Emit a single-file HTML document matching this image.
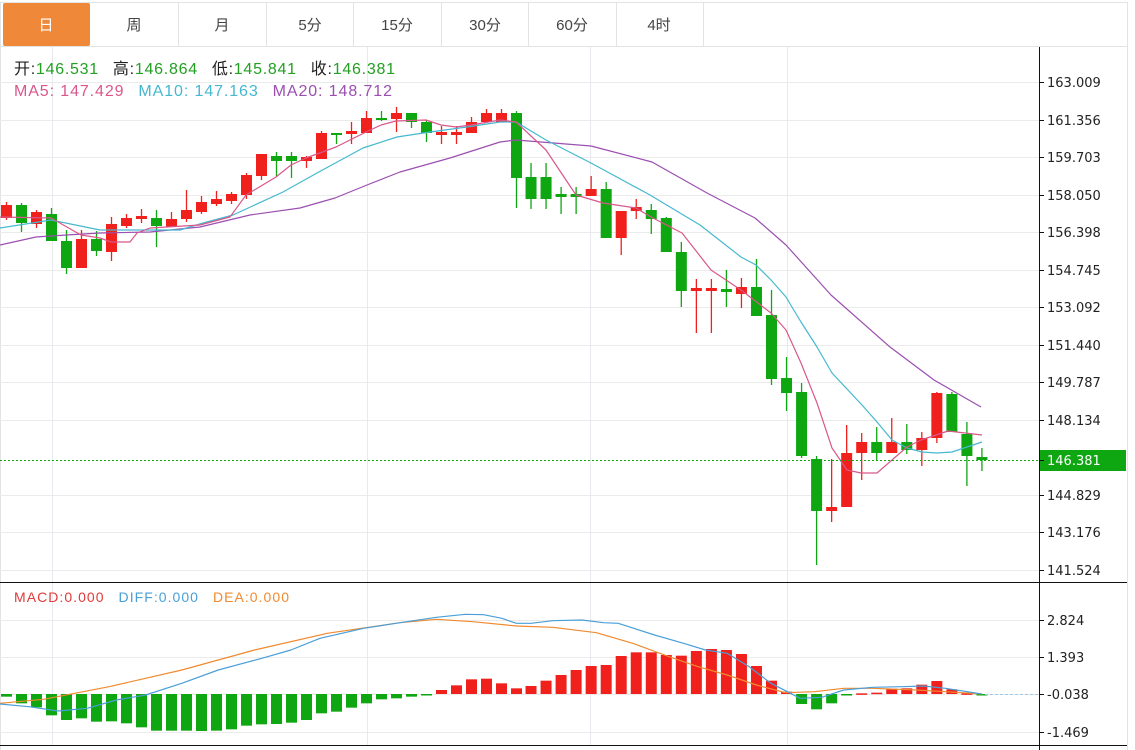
<!DOCTYPE html>
<html><head><meta charset="utf-8">
<style>
html,body{margin:0;padding:0;background:#fff;width:1135px;height:750px;overflow:hidden;font-family:"Liberation Sans","Noto Sans CJK SC",sans-serif}
svg{position:absolute;left:0;top:0}
</style></head><body>
<svg id="s" width="1135" height="750" xmlns="http://www.w3.org/2000/svg">
<rect x="0" y="0" width="1135" height="750" fill="#fff"/>
<line x1="0" y1="2.5" x2="1127" y2="2.5" stroke="#e3e3e3"/>
<line x1="0" y1="46.5" x2="1127" y2="46.5" stroke="#e3e3e3"/>
<line x1="1127.5" y1="2" x2="1127.5" y2="750" stroke="#e3e3e3"/>
<line x1="0.5" y1="2" x2="0.5" y2="750" stroke="#e3e3e3"/>
<rect x="3" y="3" width="87" height="43" fill="#f0883a" rx="2"/>
<g stroke="#e3e3e3"><line x1="178.5" y1="3" x2="178.5" y2="46"/><line x1="266.5" y1="3" x2="266.5" y2="46"/><line x1="353.5" y1="3" x2="353.5" y2="46"/><line x1="441.5" y1="3" x2="441.5" y2="46"/><line x1="528.5" y1="3" x2="528.5" y2="46"/><line x1="616.5" y1="3" x2="616.5" y2="46"/><line x1="703.5" y1="3" x2="703.5" y2="46"/></g>
<g font-size="15" fill="#444" text-anchor="middle" font-family="Liberation Sans,Noto Sans CJK SC,sans-serif">
<text x="46" y="30" fill="#fff">日</text><text x="134" y="30">周</text><text x="222" y="30">月</text><text x="310" y="30">5分</text><text x="397" y="30">15分</text><text x="485" y="30">30分</text><text x="572" y="30">60分</text><text x="659" y="30">4时</text>
</g>
<g id="grid"></g>
<g id="plot"></g>
<text x="14" y="74" font-size="16" fill="#222" textLength="381" lengthAdjust="spacing">开:<tspan fill="#22a022">146.531</tspan><tspan dx="14">高:</tspan><tspan fill="#22a022">146.864</tspan><tspan dx="14">低:</tspan><tspan fill="#22a022">145.841</tspan><tspan dx="14">收:</tspan><tspan fill="#22a022">146.381</tspan></text>
<text x="14" y="96" font-size="16" textLength="378" lengthAdjust="spacing"><tspan fill="#d9578a">MA5: 147.429</tspan><tspan dx="14" fill="#45b8d0">MA10: 147.163</tspan><tspan dx="14" fill="#9b4fb0">MA20: 148.712</tspan></text>
<text x="14" y="602" font-size="14" textLength="275" lengthAdjust="spacing"><tspan fill="#e03a3a">MACD:0.000</tspan><tspan dx="14" fill="#4a9fd8">DIFF:0.000</tspan><tspan dx="14" fill="#f08a30">DEA:0.000</tspan></text>
</svg>
<script>
var NS="http://www.w3.org/2000/svg";
function el(p,t,a,txt){var e=document.createElementNS(NS,t);for(var k in a)e.setAttribute(k,a[k]);if(txt!==undefined)e.textContent=txt;p.appendChild(e);return e;}
var g=document.getElementById('grid'),P=document.getElementById('plot');
var pt=[["163.009",82],["161.356",120],["159.703",157],["158.050",195],["156.398",232],["154.745",270],["153.092",307],["151.440",345],["149.787",382],["148.134",420],["146.381",460],["144.829",495],["143.176",532],["141.524",570]];
pt.forEach(function(t){if(t[0]!="146.381")el(g,'line',{x1:0,y1:t[1]+.5,x2:1039,y2:t[1]+.5,stroke:'#ebebeb'});});
var mt=[["2.824",620],["1.393",657],["-0.038",694],["-1.469",732]];
mt.forEach(function(t){el(g,'line',{x1:0,y1:t[1]+.5,x2:1039,y2:t[1]+.5,stroke:'#ebebeb'});});
[52,367,590,787].forEach(function(x){el(g,'line',{x1:x+.5,y1:47,x2:x+.5,y2:582,stroke:'#e6e9ee'});el(g,'line',{x1:x+.5,y1:583,x2:x+.5,y2:745,stroke:'#e6e9ee'});});
var C=[[205,218,202,220,'r'],[205,223,203,232,'g'],[212,224,210,228,'r'],[214,241,208,241,'g'],[241,268,230,274,'g'],[239,268,230,268,'r'],[239,251,231,256,'g'],[224,252,217,261,'r'],[218,226,214,228,'r'],[216,219,209,223,'r'],[218,226,210,247,'g'],[219,227,212,227,'r'],[210,219,190,222,'r'],[202,212,196,214,'r'],[199,204,191,206,'r'],[194,201,192,204,'r'],[175,195,173,199,'r'],[154,176,154,180,'r'],[156,161,152,177,'g'],[156,161,152,178,'g'],[157,161,156,168,'r'],[133,159,131,159,'r'],[133,135,133,144,'g'],[131,134,122,144,'r'],[118,133,111,133,'r'],[118,120,111,121,'g'],[113,119,107,132,'r'],[113,122,113,128,'g'],[122,133,120,142,'g'],[132,135,126,144,'r'],[132,135,126,144,'r'],[122,133,117,133,'r'],[113,122,109,122,'r'],[113,122,109,122,'r'],
[113,178,111,208,'g'],[177,199,163,209,'g'],[177,199,163,209,'g'],[194,197,187,214,'g'],[194,197,187,214,'g'],[189,196,176,196,'r'],[189,238,182,238,'g'],[211,238,211,255,'r'],[207,211,199,219,'r'],[210,219,204,234,'g'],[218,252,217,252,'g'],[252,291,242,307,'g'],[288,291,279,333,'r'],[288,291,279,333,'r'],[289,292,270,307,'g'],[287,294,278,308,'r'],[287,316,259,316,'g'],[315,379,290,385,'g'],[378,393,357,411,'g'],[392,456,383,458,'g'],[459,511,456,565,'g'],[507,511,459,522,'r'],[453,507,425,507,'r'],[442,453,433,480,'r'],[442,453,427,461,'g'],[442,453,418,453,'r'],[442,450,424,454,'g'],[438,450,432,466,'r'],[393,438,392,443,'r'],[394,432,392,432,'g'],[434,456,422,486,'g'],[457,460,448,471,'g']];
function X(i){return i<=34?6.5+i*15:516+(i-34)*15.03;}
var RED='#f0211d',GRN='#0ea611';
function line(pts,col,w){el(P,'polyline',{points:pts.map(function(p){return p[0]+','+p[1]}).join(' '),fill:'none',stroke:col,'stroke-width':w||1.2,'stroke-linejoin':'round'});}
C.forEach(function(c,i){var x=X(i),col=c[4]=='r'?RED:GRN;
el(P,'line',{x1:x,y1:c[2],x2:x,y2:c[3],stroke:col,'stroke-width':1.3});
el(P,'rect',{x:x-5.5,y:c[0],width:11,height:Math.max(2,c[1]-c[0]),fill:col});});
line([[0,245],[36,237],[66,235],[100,233],[150,232],[200,227],[250,215],[300,208],[335,198],[367,185],[400,172],[450,158],[500,142],[516,140],[591,146],[652,162],[707,193],[755,218],[786,245],[831,295],[890,347],[934,380],[981,407]],'#9b4fb0');
line([[0,228],[51,220],[100,230],[150,230],[180,230],[203,223],[233,215],[283,192],[317,173],[363,148],[397,137],[430,132],[467,127],[500,122],[516,122],[546,140],[591,163],[650,195],[700,225],[741,257],[756,265],[771,280],[786,297],[801,322],[817,347],[832,373],[862,405],[877,422],[892,440],[907,448],[922,452],[937,453],[952,452],[967,447],[982,442]],'#45b8d0');
line([[0,217],[51,218],[81,235],[100,238],[111,242],[130,242],[137,233],[150,228],[200,225],[230,217],[246,195],[276,177],[291,165],[306,158],[336,147],[366,132],[381,125],[396,121],[426,120],[441,125],[456,127],[471,125],[500,120],[516,122],[546,150],[576,195],[603,203],[636,208],[651,217],[682,233],[711,270],[741,290],[771,313],[786,330],[801,363],[817,403],[832,448],[847,470],[861,473],[877,473],[907,447],[921,440],[948,431],[982,435]],'#d9578a');
el(P,'line',{x1:0,y1:460.5,x2:1039,y2:460.5,stroke:GRN,'stroke-dasharray':'2,2'});
var B=[350,370,382,406,420,415,425,424,430,442,452,452,452,453,452,448,437,433,432,428,420,400,395,383,370,358,355,350,345,330,316,298,296,310,325,318,302,285,270,258,255,228,217,217,225,227,213,207,210,222,258,302,335,372,388,370,345,340,338,326,325,314,303,328,340,342];
B.forEach(function(v,i){var y=580+v/3,x=X(i);var top=Math.min(y,694),h=Math.abs(y-694);if(h<1.5)h=1.5;
el(P,'rect',{x:x-5.5,y:top,width:11,height:h,fill:(y<694?RED:GRN)});});
el(P,'line',{x1:985,y1:694.5,x2:1039,y2:694.5,stroke:'#9cc9e8','stroke-dasharray':'3,2'});
function M(a){return a.map(function(p){return [p[0]/1.375,580+p[1]/3];});}
line(M([[0,370],[60,358],[150,320],[250,270],[350,210],[450,160],[550,128],[600,118],[650,125],[710,138],[760,142],[820,158],[870,190],[920,230],[960,260],[1000,285],[1040,315],[1080,338],[1120,335],[1160,325],[1200,325],[1260,330],[1300,335],[1350,342]]),'#f08a30');
line(M([[0,372],[40,380],[80,393],[120,385],[160,360],[200,345],[250,310],[300,270],[360,235],[400,210],[440,175],[500,145],[550,128],[600,112],[640,103],[665,104],[690,115],[710,130],[730,130],[760,122],[800,120],[830,128],[850,130],[900,165],[940,190],[970,210],[1000,220],[1030,260],[1060,310],[1080,332],[1100,355],[1130,352],[1160,330],[1200,322],[1240,320],[1270,318],[1300,325],[1350,342]]),'#4a9fd8');
el(P,'line',{x1:1039.5,y1:47,x2:1039.5,y2:750,stroke:'#111'});
el(P,'line',{x1:0,y1:582.5,x2:1127,y2:582.5,stroke:'#111'});
el(P,'line',{x1:0,y1:745.5,x2:1127,y2:745.5,stroke:'#111'});
el(P,'rect',{x:1040,y:450,width:86,height:21,fill:'#0ea611'});
pt.concat(mt).forEach(function(t){el(P,'line',{x1:1039,y1:t[1]+.5,x2:1044,y2:t[1]+.5,stroke:'#111'});
el(P,'text',{x:1047,y:t[1]+5,'font-size':13,fill:(t[0]=="146.381"?'#fff':'#222'),'font-family':'DejaVu Sans,Liberation Sans,sans-serif'},t[0]);});
</script>
</body></html>
